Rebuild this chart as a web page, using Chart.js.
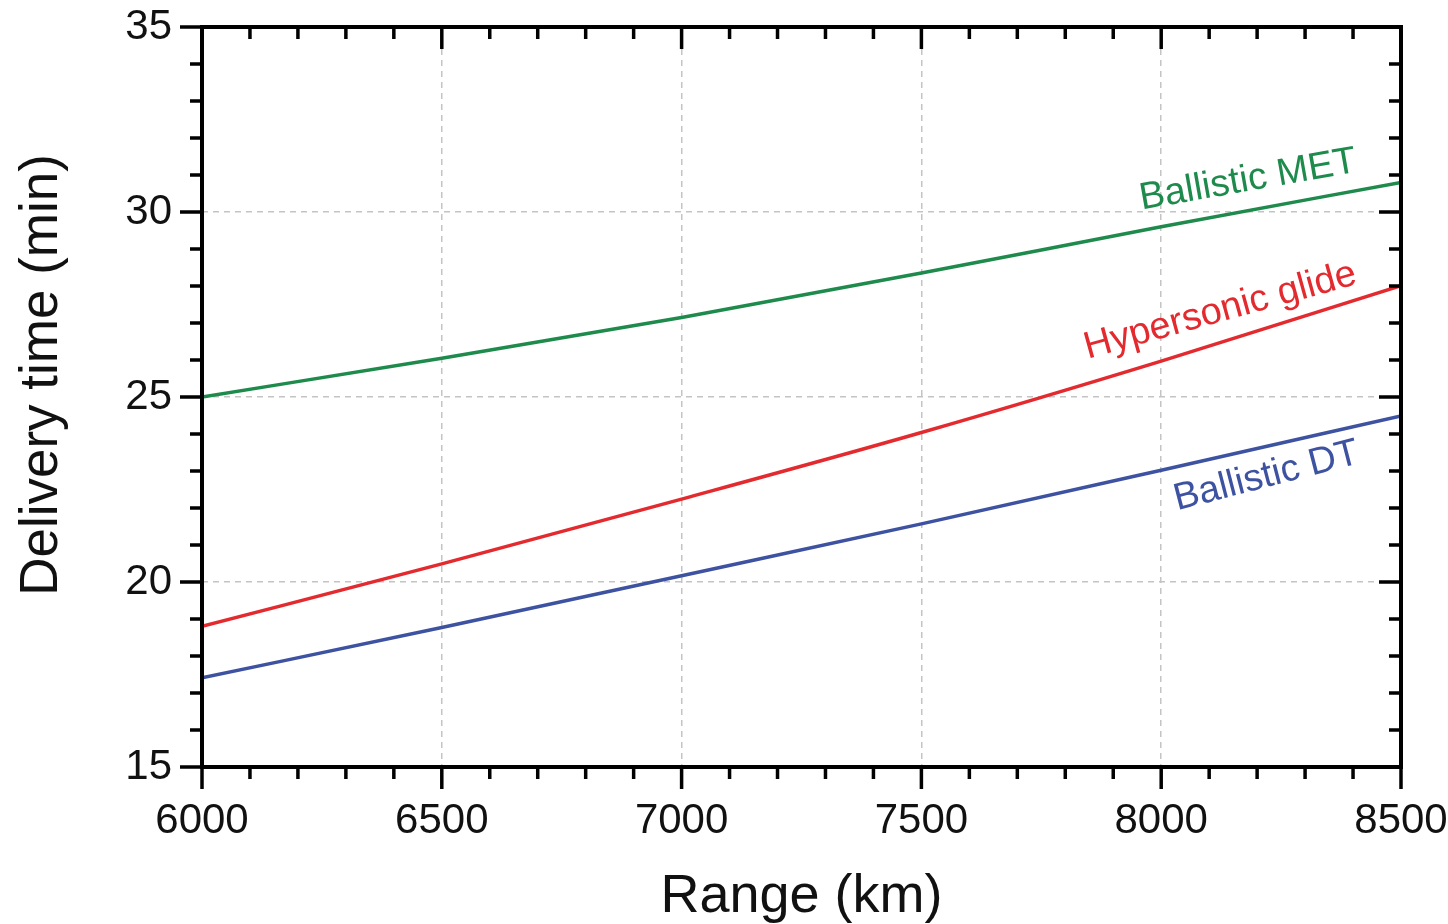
<!DOCTYPE html>
<html>
<head>
<meta charset="utf-8">
<script src="https://cdn.jsdelivr.net/npm/chart.js@4/dist/chart.umd.min.js"></script>
<style>
  html, body { margin: 0; padding: 0; background: #fff; overflow: hidden; }
  canvas { display: block; }
</style>
</head>
<body>
<canvas id="chart" width="1448" height="924"></canvas>
<script>
// data
const ranges = [6000, 6500, 7000, 7500, 8000, 8500];
const ballisticMET = [25.0, 26.05, 27.15, 28.35, 29.6, 30.8];
const hypersonicGlide = [18.8, 20.49, 22.24, 24.04, 25.97, 28.01];
const ballisticDT = [17.41, 18.77, 20.17, 21.57, 23.02, 24.49];

const xTicks = [6000, 6500, 7000, 7500, 8000, 8500];
const yTicks = [15, 20, 25, 30, 35];
const xMinorStep = 100;
const yMinorStep = 1;

const seriesNames = ['Ballistic MET', 'Hypersonic glide', 'Ballistic DT'];
const seriesColors = ['#1e8a4c', '#e32a2f', '#3d52a1'];

// where the in-plot labels sit (data coords) and their tilt
const labelAnchors = [
    { x: 8185, y: 30.58, angle: -10 },
    { x: 8129, y: 27.05, angle: -15.5 },
    { x: 8225, y: 22.58, angle: -14.5 }
];

const FONT = '"Liberation Sans", Arial, sans-serif';

function toPoints(ys) {
    return ranges.map((x, i) => ({ x: x, y: ys[i] }));
}

const allSeries = [ballisticMET, hypersonicGlide, ballisticDT];

const datasets = allSeries.map((ys, i) => ({
    label: seriesNames[i],
    data: toPoints(ys),
    borderColor: seriesColors[i],
    borderWidth: 3.5,
    pointRadius: 0,
    cubicInterpolationMode: 'monotone',
    fill: false
}));

// frame, ticks (out on left/bottom, in on top/right), y title, curve labels
const framePlugin = {
    id: 'frame',
    afterDraw(chart) {
        const ctx = chart.ctx;
        const a = chart.chartArea;
        const xs = chart.scales.x;
        const ys = chart.scales.y;
        const major = 22, minor = 12;

        ctx.save();
        ctx.strokeStyle = '#000';
        ctx.lineCap = 'butt';

        ctx.lineWidth = 3.5;
        for (let v = xs.min; v <= xs.max + 1e-6; v += xMinorStep) {
            const px = xs.getPixelForValue(v);
            const len = xTicks.includes(Math.round(v)) ? major : minor;
            ctx.beginPath();
            ctx.moveTo(px, a.bottom);
            ctx.lineTo(px, a.bottom + len);
            ctx.moveTo(px, a.top);
            ctx.lineTo(px, a.top + len);
            ctx.stroke();
        }
        for (let v = ys.min; v <= ys.max + 1e-6; v += yMinorStep) {
            const py = ys.getPixelForValue(v);
            const len = yTicks.includes(Math.round(v)) ? major : minor;
            ctx.beginPath();
            ctx.moveTo(a.left, py);
            ctx.lineTo(a.left - len, py);
            ctx.moveTo(a.right, py);
            ctx.lineTo(a.right - len, py);
            ctx.stroke();
        }

        ctx.lineWidth = 4;
        ctx.strokeRect(a.left, a.top, a.right - a.left, a.bottom - a.top);

        // y axis title
        ctx.fillStyle = '#111';
        ctx.font = '53px ' + FONT;
        ctx.textAlign = 'center';
        ctx.textBaseline = 'middle';
        ctx.translate(42, 375);
        ctx.rotate(-Math.PI / 2);
        ctx.fillText('Delivery time (min)', 0, 0);
        ctx.restore();

        // curve labels
        labelAnchors.forEach((lab, i) => {
            ctx.save();
            ctx.translate(xs.getPixelForValue(lab.x), ys.getPixelForValue(lab.y));
            ctx.rotate(lab.angle * Math.PI / 180);
            ctx.fillStyle = seriesColors[i];
            ctx.font = '38px ' + FONT;
            ctx.textAlign = 'center';
            ctx.textBaseline = 'alphabetic';
            ctx.fillText(seriesNames[i], 0, 0);
            ctx.restore();
        });
    }
};

const ctx = document.getElementById('chart').getContext('2d');
new Chart(ctx, {
    type: 'line',
    data: { datasets: datasets },
    options: {
        responsive: false,
        animation: false,
        layout: { padding: { top: 27, right: 47, left: 0, bottom: 0 } },
        plugins: {
            legend: { display: false },
            tooltip: { enabled: false }
        },
        scales: {
            x: {
                type: 'linear',
                min: 6000,
                max: 8500,
                afterBuildTicks: (scale) => { scale.ticks = xTicks.map(v => ({ value: v })); },
                afterFit: (scale) => {
                    scale.height = 157;
                    scale.paddingLeft = 0;
                    scale.paddingRight = 0;
                },
                ticks: {
                    color: '#111',
                    font: { family: FONT, size: 42 },
                    padding: 29,
                    maxRotation: 0,
                    callback: (v) => String(v)
                },
                grid: {
                    color: '#c4c4c4',
                    lineWidth: 1.5,
                    drawTicks: false
                },
                border: { display: false, dash: [6, 5] },
                title: {
                    display: true,
                    text: 'Range (km)',
                    color: '#111',
                    font: { family: FONT, size: 54, lineHeight: 1 },
                    padding: 0
                }
            },
            y: {
                type: 'linear',
                min: 15,
                max: 35,
                afterBuildTicks: (scale) => { scale.ticks = yTicks.map(v => ({ value: v })); },
                afterFit: (scale) => {
                    scale.width = 202;
                    scale.paddingTop = 0;
                    scale.paddingBottom = 0;
                },
                ticks: {
                    color: '#111',
                    font: { family: FONT, size: 42 },
                    padding: 30
                },
                grid: {
                    color: '#c4c4c4',
                    lineWidth: 1.5,
                    drawTicks: false
                },
                border: { display: false, dash: [6, 5] }
            }
        }
    },
    plugins: [framePlugin]
});
</script>
</body>
</html>
